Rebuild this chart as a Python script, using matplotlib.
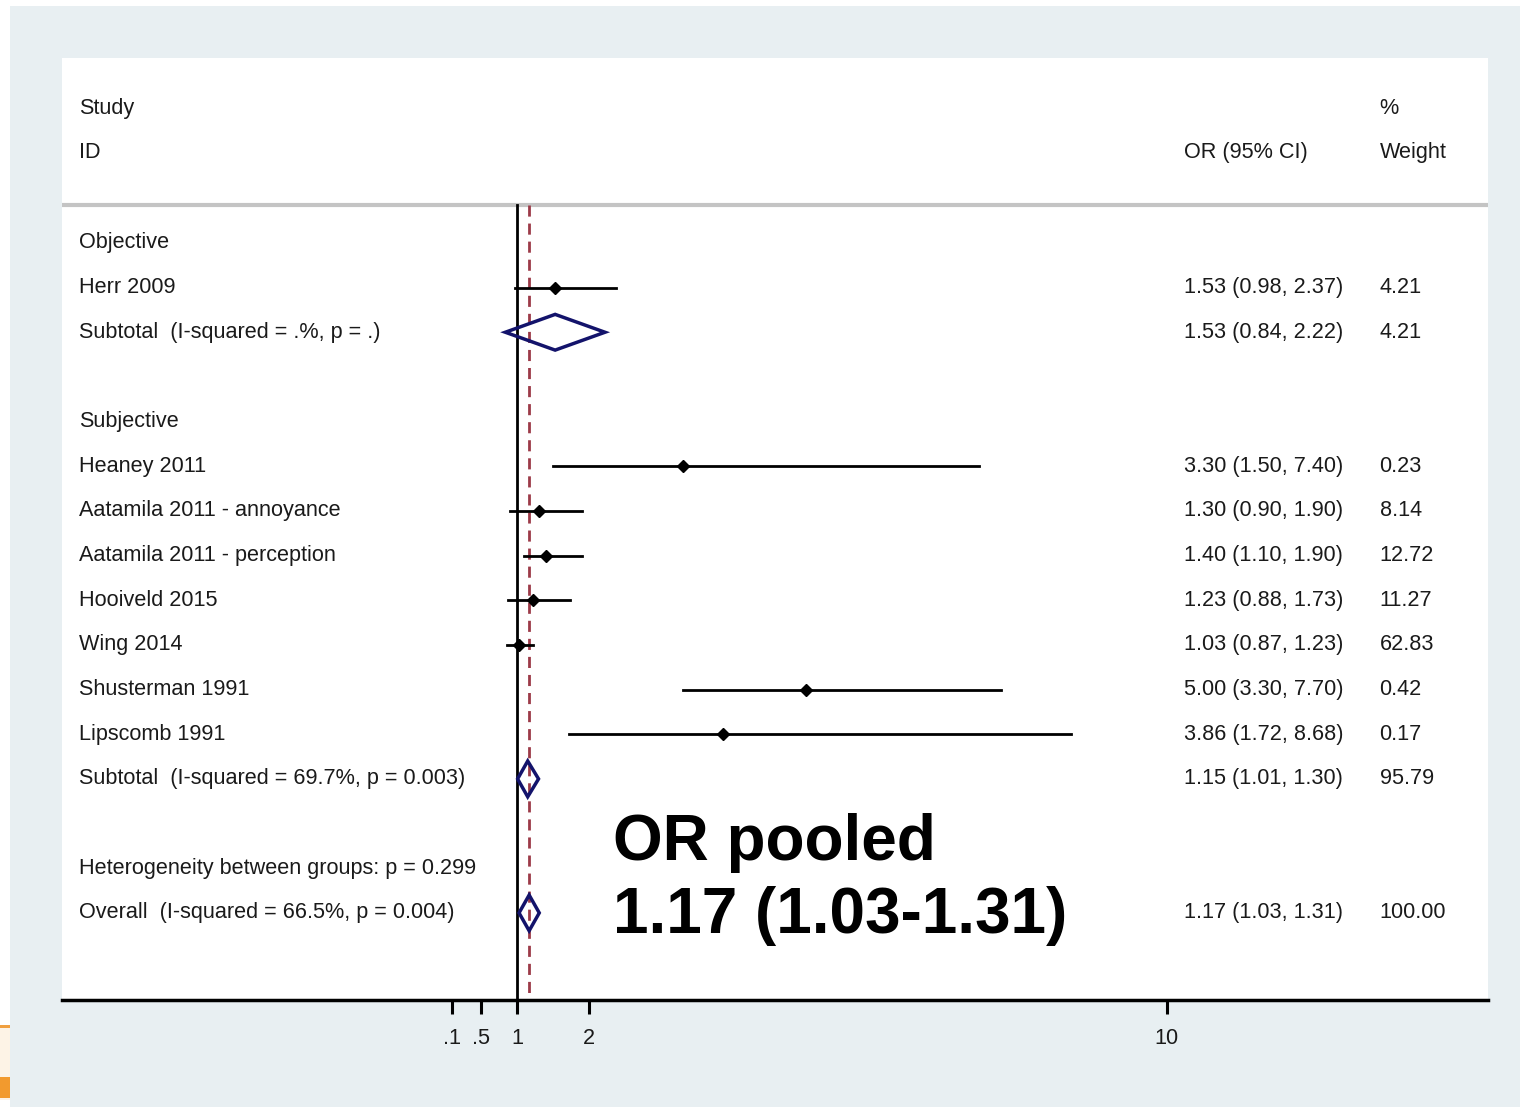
import matplotlib.pyplot as plt
import matplotlib.patches as mpatches

# rows of the forest plot, top to bottom
labels = ["Objective", "Herr 2009", "Subtotal  (I-squared = .%, p = .)", "",
          "Subjective", "Heaney 2011", "Aatamila 2011 - annoyance",
          "Aatamila 2011 - perception", "Hooiveld 2015", "Wing 2014",
          "Shusterman 1991", "Lipscomb 1991",
          "Subtotal  (I-squared = 69.7%, p = 0.003)", "",
          "Heterogeneity between groups: p = 0.299",
          "Overall  (I-squared = 66.5%, p = 0.004)"]
kinds = ["head", "study", "sub", "", "head", "study", "study", "study", "study",
         "study", "study", "study", "sub", "", "head", "sub"]
or_est = [None, 1.53, 1.53, None, None, 3.30, 1.30, 1.40, 1.23, 1.03, 5.00, 3.86,
          1.15, None, None, 1.17]
ci_lo = [None, 0.98, 0.84, None, None, 1.50, 0.90, 1.10, 0.88, 0.87, 3.30, 1.72,
         1.01, None, None, 1.03]
ci_hi = [None, 2.37, 2.22, None, None, 7.40, 1.90, 1.90, 1.73, 1.23, 7.70, 8.68,
         1.30, None, None, 1.31]
weights = ["", "4.21", "4.21", "", "", "0.23", "8.14", "12.72", "11.27", "62.83",
           "0.42", "0.17", "95.79", "", "", "100.00"]
xticks = [0.1, 0.5, 1, 2, 10]
xticklabels = [".1", ".5", "1", "2", "10"]
pooled = 1.17
note_lines = ["OR pooled", "1.17 (1.03-1.31)"]

txt_col = "#1a1a1a"
font = ["Liberation Sans", "DejaVu Sans"]
fs = 15.6

fig = plt.figure(figsize=(15.2, 11.07), dpi=100)
fig.patch.set_facecolor("white")
fig.add_artist(mpatches.Rectangle((10 / 1520, 0), 1, 1 - 6 / 1107,
                                  transform=fig.transFigure,
                                  facecolor="#e8eff2", edgecolor="none", zorder=0))
# leftover orange bits at the bottom-left edge of the screenshot
fig.add_artist(mpatches.Rectangle((0, 7 / 1107), 10 / 1520, 75 / 1107,
                                  transform=fig.transFigure,
                                  facecolor="#fdf3e6", edgecolor="none", zorder=0))
fig.add_artist(mpatches.Rectangle((0, 79 / 1107), 10 / 1520, 3 / 1107,
                                  transform=fig.transFigure,
                                  facecolor="#f0a040", edgecolor="none", zorder=0))
fig.add_artist(mpatches.Rectangle((0, 9 / 1107), 10 / 1520, 21 / 1107,
                                  transform=fig.transFigure,
                                  facecolor="#f29a2e", edgecolor="none", zorder=0))

ax = fig.add_axes([62 / 1520, 1 - 1000 / 1107, 1426 / 1520, 942 / 1107])
ax.set_facecolor("white")
ax.set_xlim(-5.30, 14.45)
ax.set_ylim(16.95, -4.14)
for s in ["top", "left", "right"]:
    ax.spines[s].set_visible(False)
ax.spines["bottom"].set_linewidth(2.5)
ax.set_yticks([])
ax.set_xticks(xticks)
ax.set_xticklabels(xticklabels, fontsize=fs, color=txt_col, family=font)
ax.tick_params(axis="x", direction="out", length=10, width=2.2, pad=10)

ytr = ax.get_yaxis_transform()

# header
ax.text(0.012, -3.02, "Study", transform=ytr, fontsize=fs, family=font,
        color=txt_col, va="center")
ax.text(0.012, -2.02, "ID", transform=ytr, fontsize=fs, family=font,
        color=txt_col, va="center")
ax.text(0.787, -2.02, "OR (95% CI)", transform=ytr, fontsize=fs, family=font,
        color=txt_col, va="center")
ax.text(0.924, -3.02, "%", transform=ytr, fontsize=fs, family=font,
        color=txt_col, va="center")
ax.text(0.924, -2.02, "Weight", transform=ytr, fontsize=fs, family=font,
        color=txt_col, va="center")
ax.axhline(-0.85, color="#c4c4c4", lw=3)

# reference lines
ax.plot([1, 1], [-0.85, 16.95], color="black", lw=2)
ax.plot([pooled, pooled], [-0.85, 16.95], color="#9c3a48", lw=2,
        linestyle=(0, (4, 2.5)))

for i, lab in enumerate(labels):
    if lab:
        ax.text(0.012, i, lab, transform=ytr, fontsize=fs, family=font,
                color=txt_col, va="center")
    if or_est[i] is None:
        continue
    ax.text(0.787, i, f"{or_est[i]:.2f} ({ci_lo[i]:.2f}, {ci_hi[i]:.2f})",
            transform=ytr, fontsize=fs, family=font, color=txt_col, va="center")
    ax.text(0.924, i, weights[i], transform=ytr, fontsize=fs, family=font,
            color=txt_col, va="center")
    if kinds[i] == "study":
        ax.plot([ci_lo[i], ci_hi[i]], [i, i], color="black", lw=2, zorder=3)
        ax.plot(or_est[i], i, marker="D", color="black", ms=6.5, zorder=4)
    else:
        h = 0.4
        dx = [ci_lo[i], or_est[i], ci_hi[i], or_est[i], ci_lo[i]]
        dy = [i, i - h, i, i + h, i]
        ax.add_patch(mpatches.Polygon(list(zip(dx, dy)), closed=True,
                                      facecolor="none", edgecolor="#13136b",
                                      lw=2.5, zorder=5))

ax.text(2.33, 13.81, note_lines[0], fontsize=46, fontweight="bold",
        family=font, color="black", va="baseline")
ax.text(2.33, 15.45, note_lines[1], fontsize=46, fontweight="bold",
        family=font, color="black", va="baseline")

fig.savefig("out.png", dpi=100)
